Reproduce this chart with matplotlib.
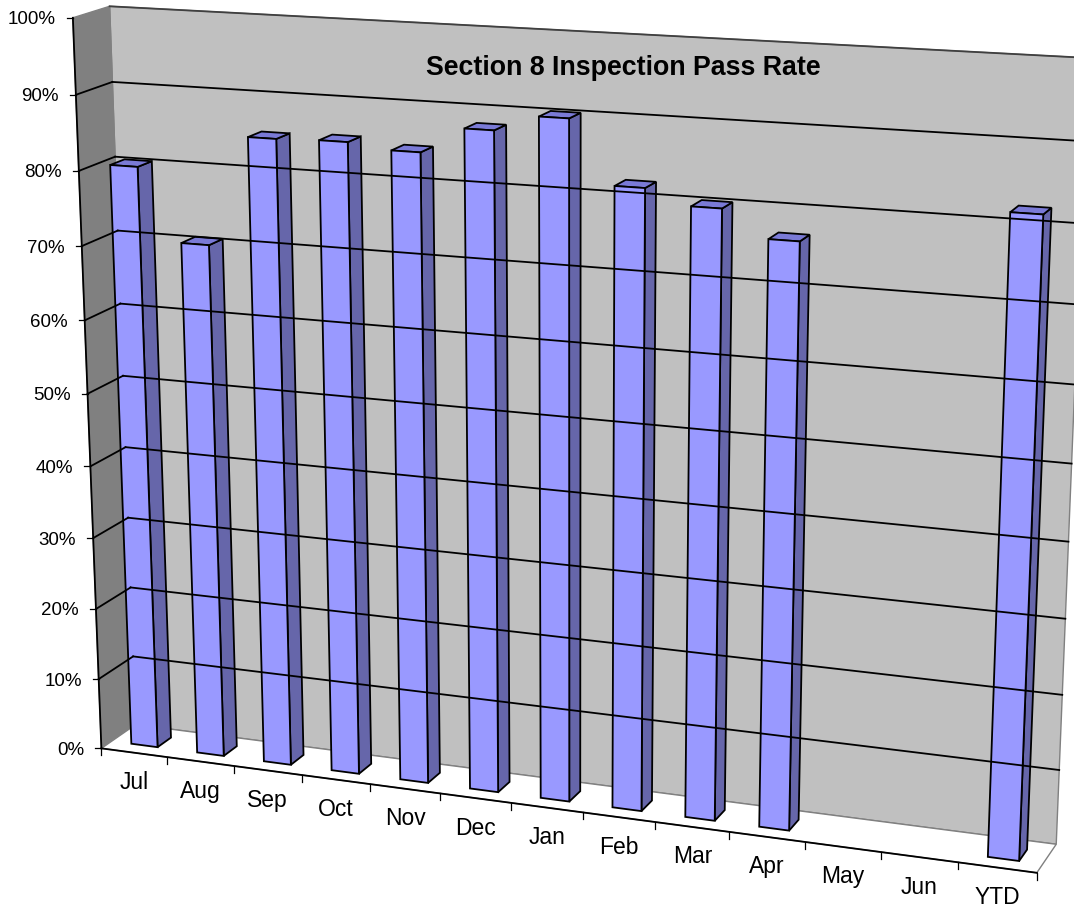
import numpy as np
import matplotlib
matplotlib.use("Agg")
import matplotlib.pyplot as plt
from matplotlib.transforms import Transform

plt.rcParams['font.family'] = ['Liberation Sans', 'DejaVu Sans']

categories = ["Jul", "Aug", "Sep", "Oct", "Nov", "Dec", "Jan", "Feb", "Mar", "Apr", "May", "Jun", "YTD"]
pass_rate = [80.4, 70.7, 85.3, 85.5, 84.8, 88.2, 90.3, 82.2, 80.3, 76.9, np.nan, np.nan, 82.3]
pct_ticks = list(range(0, 101, 10))
title = "Section 8 Inspection Pass Rate"

# frame calibration: (category, percent, depth) -> pixel in the 1074x907 image
n_cat = len(categories)
world_pts = [(0, 100, 1), (n_cat, 100, 1), (0, 0, 1), (n_cat, 0, 1), (0, 100, 0), (0, 0, 0), (n_cat, 0, 0)]
pixel_pts = [(109.5, 7), (1088, 58), (135, 725), (1057, 843), (73, 17), (102, 748), (1036, 874)]


def fit_camera(world, pixel):
    rows = []
    for (X, Y, Z), (u, v) in zip(world, pixel):
        rows.append([X, Y, Z, 1, 0, 0, 0, 0, -u * X, -u * Y, -u * Z, -u])
        rows.append([0, 0, 0, 0, X, Y, Z, 1, -v * X, -v * Y, -v * Z, -v])
    return np.linalg.svd(np.array(rows, float))[2][-1].reshape(3, 4)


CAM = fit_camera(world_pts, pixel_pts)


class Plane(Transform):
    """2D data on a plane of the box: axis 0=category, 1=percent, 2=depth is held at val"""
    input_dims = 2
    output_dims = 2
    is_affine = False

    def __init__(self, axis, val):
        super().__init__()
        self.axis = axis
        self.val = val

    def transform_non_affine(self, values):
        xyz = np.insert(np.asarray(values, float), self.axis, self.val, axis=1)
        p = CAM @ np.column_stack([xyz, np.ones(len(xyz))]).T
        return (p[:2] / p[2]).T


def to_pixel(cat, pct, depth):
    return Plane(2, depth).transform_non_affine([[cat, pct]])[0]


fig = plt.figure(figsize=(10.74, 9.07), dpi=100)
ax = fig.add_axes([0, 0, 1, 1])


def on(axis, val):
    return Plane(axis, val) + ax.transData


EDGE = "#808080"
# walls and floor
ax.fill([0, n_cat, n_cat, 0], [0, 0, 100, 100], transform=on(2, 1), fc="#c0c0c0", ec=EDGE, lw=1)
ax.fill([0, 100, 100, 0], [0, 0, 1, 1], transform=on(0, 0), fc="#808080", ec=EDGE, lw=1)
ax.fill([0, n_cat, n_cat, 0], [0, 0, 1, 1], transform=on(1, 0), fc="white", ec=EDGE, lw=1)

for p in pct_ticks:
    col = "#404040" if p == 100 else "black"
    if p > 0:
        ax.plot([0, n_cat], [p, p], color=col, lw=1.3, transform=on(2, 1))
    if 0 < p < 100:
        ax.plot([p, p], [0, 1], color=col, lw=1.3, transform=on(0, 0))

# bars
slots = np.arange(n_cat)
for s, v in zip(slots, pass_rate):
    if np.isnan(v):
        continue
    ax.fill([0, v, v, 0], [0.3, 0.3, 0.7, 0.7], transform=on(0, s + 0.7), fc="#6666aa", ec="black", lw=1.3)
    ax.fill([s + 0.3, s + 0.7, s + 0.7, s + 0.3], [0.3, 0.3, 0.7, 0.7], transform=on(1, v),
            fc="#7a7ad6", ec="black", lw=1.3)
ax.bar(slots + 0.5, pass_rate, width=0.4, color="#9999ff", edgecolor="black", linewidth=1.3, transform=on(2, 0.3))

# axis lines, ticks, labels
ax.plot([0, 0], [0, 100], color="black", lw=1.3, transform=on(2, 0))
ax.plot([0, n_cat], [0, 0], color="black", lw=1.3, transform=on(2, 0))
for p in pct_ticks:
    x, y = to_pixel(0, p, 0)
    ax.plot([x - 6, x], [y, y], color="black", lw=0.9)
    ax.text(x - 17, y + 2, f"{p}%", ha="right", va="center", fontsize=13.5, color="black")
for s in range(n_cat + 1):
    x, y = to_pixel(s, 0, 0)
    ax.plot([x, x], [y, y + 7], color="black", lw=0.9)
for s, c in enumerate(categories):
    x, y = to_pixel(s + 0.5, 0, 0)
    ax.text(x, y + 30, c, ha="center", va="center", fontsize=16.5, color="black")

ax.text(623, 68, title, ha="center", va="center", fontsize=19.3, fontweight="bold", color="black")

ax.set_xlim(0, 1074)
ax.set_ylim(907, 0)
ax.axis("off")
fig.savefig("out.png", dpi=100, facecolor="white")
